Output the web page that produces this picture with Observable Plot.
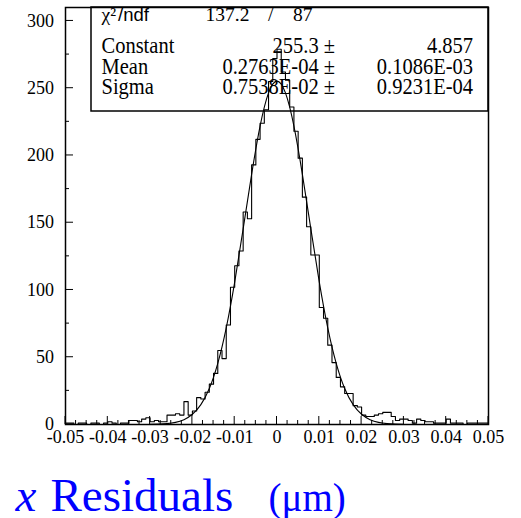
<!DOCTYPE html>
<html>
<head>
<meta charset="utf-8">
<script src="https://cdn.jsdelivr.net/npm/d3@7"></script>
<script src="https://cdn.jsdelivr.net/npm/@observablehq/plot@0.6"></script>
<style>
  html, body { margin: 0; padding: 0; background: white; }
  #chart svg { display: block; }
</style>
</head>
<body>
<div id="chart"></div>
<script>
// ---- data ----
const binStart = -0.05;
const binWidth = 0.001;
const counts = [
  1,1,0,1,1,0,1,1,0,1,
  2,1,0,1,1,3,3,2,4,5,
  2,3,2,2,7,7,8,7,17,7,
  10,20,19,24,30,38,55,49,74,102,
  118,129,158,153,193,212,224,234,255,272,
  279,262,256,236,218,198,169,147,126,126,
  87,79,59,46,35,28,23,23,14,13,
  7,6,6,7,8,9,9,6,3,4,
  4,3,1,4,3,2,2,1,1,1,
  4,1,1,1,0,1,1,1,1,1
];
const fitX = [-0.030,-0.028,-0.026,-0.024,-0.022,-0.020,-0.018,-0.016,-0.014,-0.012,-0.010,-0.008,-0.006,-0.004,-0.002,
  0, 0.002,0.004,0.006,0.008,0.010,0.012,0.014,0.016,0.018,0.020,0.022,0.024,0.026,0.028,0.030];
const fitY = [0.09,0.26,0.67,1.6,3.6,7.6,14.8,26.8,45.5,71.9,105.9,145.4,186.0,221.8,246.5,
  255.3,246.5,221.8,186.0,145.4,105.9,71.9,45.5,26.8,14.8,7.6,3.6,1.6,0.67,0.26,0.09];
const xTicks = [-0.05,-0.04,-0.03,-0.02,-0.01,0,0.01,0.02,0.03,0.04,0.05];
const yTicks = [0,50,100,150,200,250,300];
const yMinor = [25,75,125,175,225,275];
const chi2 = "137.2";
const ndf = "87";
const statLabels = ["Constant","Mean","Sigma"];
const statValues = ["255.3","0.2763E-04","0.7538E-02"];
const statErrors = ["4.857","0.1086E-03","0.9231E-04"];
const titleVar = "x";
const titleWord = "Residuals";
const titleUnit = "(\u03BCm)";

// ---- layout ----
const W = 521, H = 518;
const mL = 65, mR = 33, mT = 7, mB = 94;
const xDomain = [-0.05, 0.05], yDomain = [0, 310];
const xMinor = d3.range(-0.05, 0.05001, 0.0025).filter(v => Math.abs(Math.round(v*100) - v*100) > 1e-6);

const hist = counts.map((c, i) => ({x: binStart + i * binWidth, y: c}));
hist.push({x: binStart + counts.length * binWidth, y: counts[counts.length - 1]});
const fit = fitX.map((x, i) => ({x, y: fitY[i]}));

const serif = "Liberation Serif, Times New Roman, serif";
const sans = "Liberation Sans, Arial, sans-serif";

// inward ticks (pixel layout mirrors the plot's scales)
function insideTicks(index, scales) {
  const xs = (scales && scales.x) || d3.scaleLinear(xDomain, [mL, W - mR]);
  const ys = (scales && scales.y) || d3.scaleLinear(yDomain, [H - mB, mT]);
  const g = d3.create("svg:g").attr("stroke", "black").attr("stroke-width", 1).attr("fill", "none");
  const bottom = H - mB;
  yTicks.forEach(v => g.append("line").attr("x1", mL).attr("x2", mL + 8).attr("y1", ys(v)).attr("y2", ys(v)));
  yMinor.forEach(v => g.append("line").attr("x1", mL).attr("x2", mL + 4).attr("y1", ys(v)).attr("y2", ys(v)));
  xTicks.forEach(v => g.append("line").attr("x1", xs(v)).attr("x2", xs(v)).attr("y1", bottom).attr("y2", bottom - 8));
  xMinor.forEach(v => g.append("line").attr("x1", xs(v)).attr("x2", xs(v)).attr("y1", bottom).attr("y2", bottom - 4));
  return g.node();
}

// stats box (pixel layout)
const boxLeft = 91, boxBottom = 111;
function statsBox() {
  return d3.create("svg:rect")
    .attr("x", boxLeft)
    .attr("y", mT)
    .attr("width", (W - mR) - boxLeft)
    .attr("height", boxBottom - mT)
    .attr("fill", "white")
    .attr("stroke", "black")
    .attr("stroke-width", 1.5)
    .node();
}

const rowBase = [53, 73.5, 94];
const row1 = 21;
function statsText() {
  const g = d3.create("svg:g").attr("fill", "black");
  const add = (txt, x, y, anchor, size, family, sy) => {
    g.append("text")
      .attr("transform", `translate(${x},${y}) scale(1,${sy})`)
      .attr("text-anchor", anchor)
      .attr("font-size", size)
      .attr("font-family", family)
      .text(txt);
  };
  statLabels.forEach((lab, i) => {
    add(lab, 101.5, rowBase[i], "start", 20.5, serif, 1.1);
    add(statValues[i] + " \u00B1", 335, rowBase[i], "end", 20.5, serif, 1.1);
    add(statErrors[i], 473, rowBase[i], "end", 20.5, serif, 1.1);
  });
  add("\u03C7\u00B2", 101.5, row1, "start", 19.5, serif, 1);
  add("/ndf", 118, row1, "start", 18.5, sans, 1);
  add(chi2, 205.5, row1, "start", 19.5, serif, 1);
  add("/", 268, row1, "start", 19.5, serif, 1);
  add(ndf, 293, row1, "start", 19.5, serif, 1);
  return g.node();
}

const titleBase = 510;
const titleMarks = [
  Plot.text([titleVar], {frameAnchor: "bottom-left", text: d => d, dx: 15 - mL, dy: titleBase - (H - mB),
    lineAnchor: "bottom", textAnchor: "start", fontSize: 47, fontStyle: "italic", fontFamily: serif, fill: "#0000ff"}),
  Plot.text([titleWord], {frameAnchor: "bottom-left", text: d => d, dx: 50 - mL, dy: titleBase - (H - mB),
    lineAnchor: "bottom", textAnchor: "start", fontSize: 47, fontFamily: serif, fill: "#0000ff"}),
  Plot.text([titleUnit], {frameAnchor: "bottom-left", text: d => d, dx: 268 - mL, dy: titleBase - (H - mB),
    lineAnchor: "bottom", textAnchor: "start", fontSize: 39, fontFamily: serif, fill: "#0000ff"})
];

const chart = Plot.plot({
  width: W, height: H,
  marginLeft: mL, marginRight: mR, marginTop: mT, marginBottom: mB,
  x: {domain: xDomain, label: null},
  y: {domain: yDomain, label: null},
  style: {fontFamily: serif, fontSize: "18px", background: "white", color: "black", overflow: "visible"},
  marks: [
    statsBox,
    statsText,
    Plot.line(fit, {x: "x", y: "y", curve: "natural", stroke: "black", strokeWidth: 1.1, clip: true}),
    Plot.line(hist, {x: "x", y: "y", curve: "step-after", stroke: "black", strokeWidth: 1.1}),
    insideTicks,
    Plot.axisY(yTicks, {tickSize: 0, tickPadding: 11.5, fontSize: 18, label: null, fontFamily: serif}),
    Plot.axisX(xTicks, {tickSize: 0, tickPadding: 6, fontSize: 18, label: null, fontFamily: serif,
      tickFormat: d => d === 0 ? "0" : d.toFixed(2)}),
    Plot.frame({stroke: "black", strokeWidth: 1.5}),
    ...titleMarks
  ]
});
document.getElementById("chart").appendChild(chart);
</script>
</body>
</html>
